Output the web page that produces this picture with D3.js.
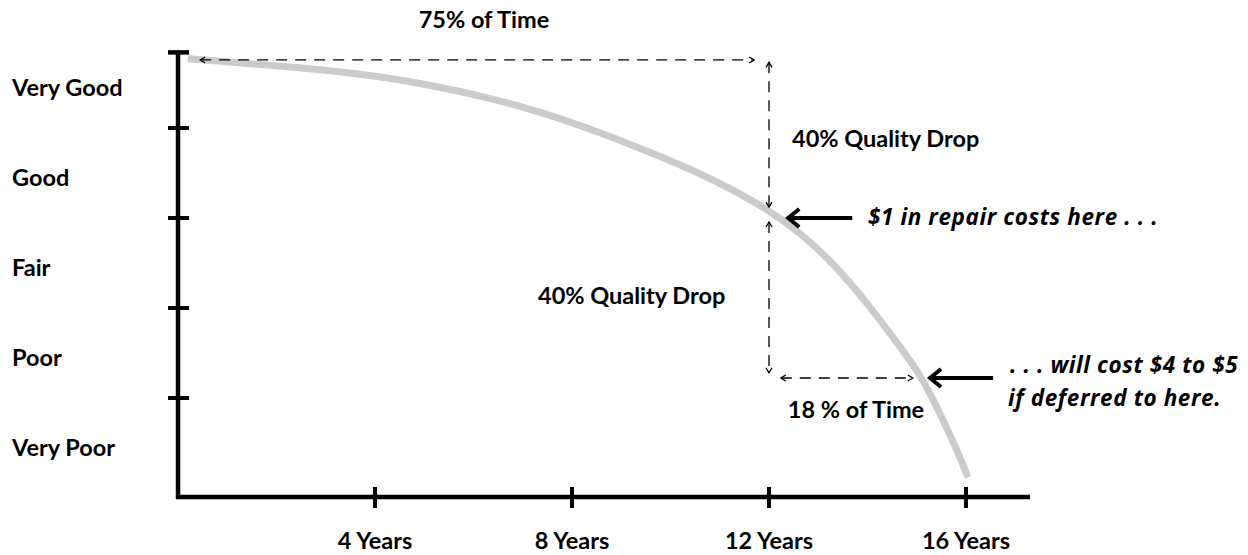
<!DOCTYPE html>
<html><head><meta charset="utf-8">
<script src="https://cdn.jsdelivr.net/npm/d3@7"></script>
<style>
body{margin:0;background:#fff}
text{font-family:Lato,"Noto Sans",sans-serif;font-weight:bold;fill:#000}
text.it{font-family:"Open Sans","Noto Sans",sans-serif;font-style:italic;font-weight:bold;letter-spacing:0.6px}
</style>
</head><body>
<svg id="c" width="1248" height="555"></svg>
<script>
// ---- data ----
const qualityLabels = ["Very Poor", "Poor", "Fair", "Good", "Very Good"];
const qualityTicks = [1, 2, 3, 4];
const yearTicks = [4, 8, 12, 16];
const yearTickLabels = ["4 Years", "8 Years", "12 Years", "16 Years"];
const curveYears   = [0.20, 2.34, 4.51, 7.21, 9.24, 10.60, 11.27, 11.96, 12.63, 13.30, 13.99, 14.66, 15.11, 15.47, 15.82, 16.04];
const curveQuality = [4.77, 4.68, 4.56, 4.23, 3.81, 3.50, 3.31, 3.10, 2.84, 2.50, 2.06, 1.57, 1.23, 0.83, 0.42, 0.12];

// annotation anchors (data space)
const timeSpan75   = [0.45, 11.7];   // years, at quality 4.756
const dropUpper    = [4.73, 3.12];   // quality, at 12 years
const dropLower    = [2.956, 1.28];  // quality, at 12 years
const timeSpan18   = [12.24, 14.92]; // years, at quality 1.222

const svg = d3.select("#c");
const x = d3.scaleLinear().domain([0, 16]).range([178, 966]);
const y = d3.scaleLinear().domain([0, 5]).range([488, 38]);

// ---- markers ----
const defs = svg.append("defs");
defs.append("marker").attr("id", "chev")
  .attr("markerUnits", "userSpaceOnUse")
  .attr("viewBox", "0 0 8 8").attr("refX", 7).attr("refY", 4)
  .attr("markerWidth", 8).attr("markerHeight", 8)
  .attr("orient", "auto-start-reverse")
  .append("path").attr("d", "M2,1 L7,4 L2,7").attr("fill", "none")
  .attr("stroke", "#000").attr("stroke-width", 1.3);

// ---- curve ----
const pts = curveYears.map((d, i) => [d, curveQuality[i]]);
svg.append("path")
  .datum(pts)
  .attr("d", d3.line().x(d => x(d[0])).y(d => y(d[1])).curve(d3.curveBasis))
  .attr("fill", "none").attr("stroke", "#cbcbcb").attr("stroke-width", 7);

// ---- axes ----
const ax = svg.append("g").attr("stroke", "#000");
const yAxisTop = 4.84, xAxisQ = -0.1, xAxisEnd = 17.3;
ax.append("line").attr("x1", x(0)).attr("x2", x(0))
  .attr("y1", y(yAxisTop)).attr("y2", y(xAxisQ) + 2).attr("stroke-width", 4.5);
ax.append("line").attr("x1", x(0) - 2).attr("x2", x(xAxisEnd))
  .attr("y1", y(xAxisQ)).attr("y2", y(xAxisQ)).attr("stroke-width", 4.5);
ax.append("line").attr("x1", x(0) - 10).attr("x2", x(0) + 11)
  .attr("y1", y(yAxisTop)).attr("y2", y(yAxisTop)).attr("stroke-width", 4.5);
ax.selectAll(".yt").data(qualityTicks).join("line")
  .attr("x1", x(0) - 10).attr("x2", x(0) + 11)
  .attr("y1", d => y(d)).attr("y2", d => y(d)).attr("stroke-width", 4);
ax.selectAll(".xt").data(yearTicks).join("line")
  .attr("x1", d => x(d)).attr("x2", d => x(d))
  .attr("y1", y(xAxisQ) - 10).attr("y2", y(xAxisQ) + 11).attr("stroke-width", 4);

// labels
svg.selectAll(".ql").data(qualityLabels).join("text")
  .attr("x", 12).attr("y", (d, i) => y(i + 0.5) + 12.5)
  .attr("font-size", 23.5).text(d => d);
svg.selectAll(".yl").data(yearTicks).join("text")
  .attr("x", d => x(d)).attr("y", 549).attr("text-anchor", "middle")
  .attr("font-size", 23.5).text((d, i) => yearTickLabels[i]);

// ---- dashed annotations ----
const dash = svg.append("g").attr("stroke", "#000").attr("stroke-width", 1.3)
  .attr("stroke-dasharray", "11,8").attr("fill", "none");
function dline(x1, y1, x2, y2) {
  dash.append("line").attr("x1", x1).attr("y1", y1).attr("x2", x2).attr("y2", y2)
    .attr("marker-start", "url(#chev)").attr("marker-end", "url(#chev)");
}
dline(x(timeSpan75[0]), y(4.756), x(timeSpan75[1]), y(4.756));
dline(x(12), y(dropUpper[0]), x(12), y(dropUpper[1]));
dline(x(12), y(dropLower[0]), x(12), y(dropLower[1]));
dline(x(timeSpan18[0]), y(1.222), x(timeSpan18[1]), y(1.222));

// ---- big arrows ----
function bigArrow(tipYr, tailYr, q) {
  const tx = x(tipYr), ty = y(q), ex = x(tailYr);
  svg.append("line").attr("x1", tx + 2).attr("x2", ex).attr("y1", ty).attr("y2", ty)
    .attr("stroke", "#000").attr("stroke-width", 4);
  svg.append("path").attr("d", `M${tx + 11},${ty - 9} L${tx},${ty} L${tx + 11},${ty + 9}`)
    .attr("fill", "none").attr("stroke", "#000").attr("stroke-width", 4)
    .attr("stroke-linejoin", "miter");
}
bigArrow(12.39, 13.69, 3.0);
bigArrow(15.27, 16.55, 1.222);

// ---- annotation text ----
function txt(tx, ty, s, opts = {}) {
  const t = svg.append("text").attr("x", tx).attr("y", ty).attr("font-size", opts.size || 23.5)
    .attr("text-anchor", opts.anchor || "start").text(s);
  if (opts.italic) t.attr("class", "it").attr("font-size", opts.size || 22.5);
  return t;
}
txt(484, 28, "75% of Time", {anchor: "middle"});
txt(792, 147, "40% Quality Drop");
txt(538, 304, "40% Quality Drop");
txt(856, 418, "18 % of Time", {anchor: "middle"});
txt(868, 225, "$1 in repair costs here . . .", {italic: true});
txt(1010, 373, ". . . will cost $4 to $5", {italic: true});
txt(1008, 406, "if deferred to here.", {italic: true});
</script>
</body></html>
